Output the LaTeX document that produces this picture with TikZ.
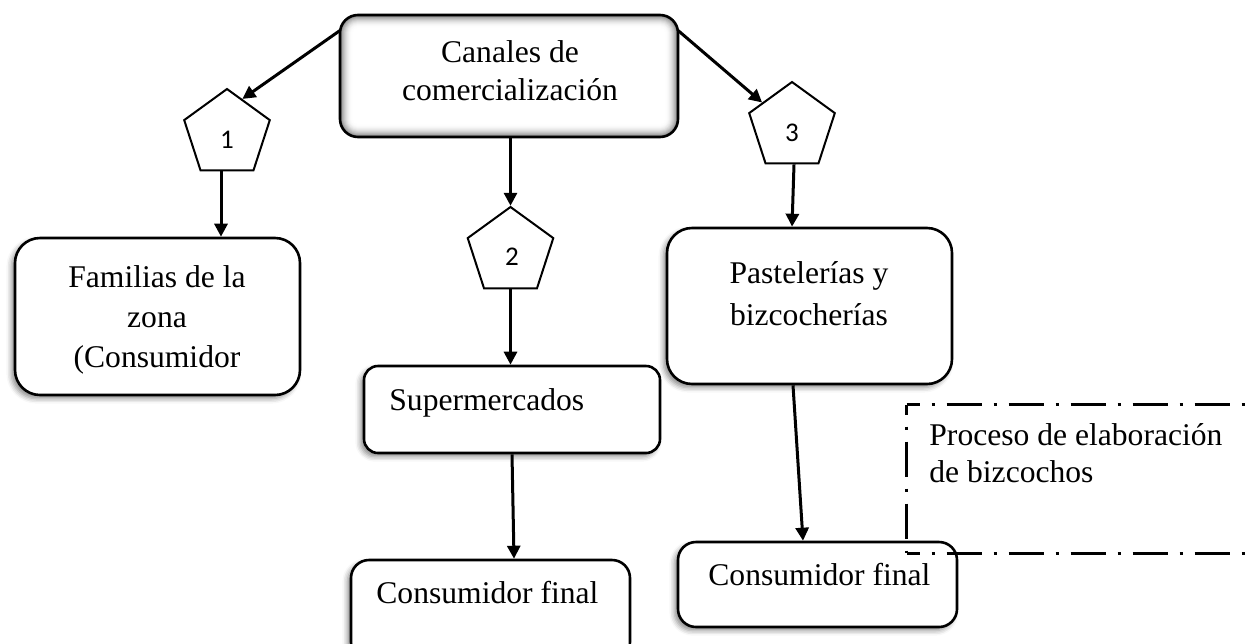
\documentclass[tikz,border=0pt]{standalone}
\usepackage{fontspec}
\setmainfont{Liberation Serif}
\newfontfamily\digitfont{Carlito}
\usetikzlibrary{shapes.geometric,arrows.meta,calc,shadows.blur}
\newcommand\fsz[1]{\fontsize{15.8}{#1}\selectfont}
\begin{document}
\begin{tikzpicture}[x=0.5pt,y=-0.5pt,
  box/.style={draw, line width=1.3pt, fill=white, rounded corners=#1, inner sep=0pt,
    blur shadow={shadow xshift=-1.8pt, shadow yshift=-1.8pt, shadow blur radius=2.5pt, shadow opacity=45}},
  topbox/.style={draw, line width=1.3pt, fill=white, rounded corners=9pt, inner sep=0pt,
    path picture={
      \foreach \i in {0,...,12} {
        \pgfmathsetmacro\c{50*(1-\i/13)^2.2}
        \pgfmathsetlengthmacro\r{max(9pt-\i*0.5pt,1pt)}
        \fill[black!\c, rounded corners=\r]
          ([shift={(\i*0.5pt,\i*0.5pt)}]path picture bounding box.south west) rectangle
          ([shift={(-\i*0.5pt,-\i*0.5pt)}]path picture bounding box.north east);
      }
      \fill[white, rounded corners=2pt]
        ([shift={(6.5pt,6.5pt)}]path picture bounding box.south west) rectangle
        ([shift={(-6.5pt,-6.5pt)}]path picture bounding box.north east);
    }},
  pent/.style={regular polygon, regular polygon sides=5, draw, line width=1pt,
    minimum size=45pt, inner sep=0pt, fill=white},
  dig/.style={inner sep=0pt, font=\digitfont\fontsize{13.5}{16}\selectfont},
  txt/.style={inner sep=0pt, anchor=base},
  txtl/.style={inner sep=0pt, anchor=base west},
  arr/.style={line width=1.5pt, -{Triangle[length=6.5pt,width=6.5pt]}},
  dashline/.style={line width=1.5pt, dash pattern=on 17.5pt off 6pt on 1.5pt off 6pt}
]
\useasboundingbox (0,0) rectangle (1256,643);
\clip (0,0) rectangle (1256,643);

% boxes
\node[topbox, minimum width=169pt, minimum height=61pt] (T) at (509,76) {};
\node[box=12.5pt, minimum width=142.5pt, minimum height=78.5pt] (F) at (157.5,316.5) {};
\node[box=7pt, minimum width=148pt, minimum height=43.5pt] (S) at (512,409.5) {};
\node[box=12.5pt, minimum width=142.5pt, minimum height=78pt] (Pa) at (809.5,306) {};
\node[box=9pt, minimum width=139.5pt, minimum height=50pt] (C1) at (490.5,610) {};
\node[box=9pt, minimum width=139.5pt, minimum height=42.5pt] (C2) at (817.5,584.5) {};
\node[inner sep=0pt, minimum width=181.5pt, minimum height=74pt] (D) at (1088.5,479) {};
\draw[dashline, dash phase=11pt] (D.north west) -- (D.north east);
\draw[dashline, dash phase=12.5pt] (D.north west) -- (D.south west);
\draw[dashline, dash phase=11pt] (D.south west) -- (D.south east);

% pentagons
\node[pent] (P1) at (227,134) {};
\node[pent] (P2) at (510.5,252) {};
\node[pent] (P3) at (792,127) {};
\node[dig] (d1) at (227,139.5) {1};
\node[dig] (d2) at (512,257) {2};
\node[dig] (d3) at (792,132.5) {3};

% texts (base anchor = baseline of the last line)
\node[txt, align=center, font=\fsz{19pt}] (tT) at (510,100) {Canales de\\comercialización};
\node[txt, align=center, font=\fsz{20pt}] (tF) at (157,367) {Familias de la\\zona\\(Consumidor};
\node[txtl, font=\fsz{19pt}] (tS) at (389,410) {Supermercados};
\node[txt, align=center, font=\fsz{21pt}] (tPa) at (809,325) {Pastelerías y\\bizcocherías};
\node[txtl, font=\fsz{19pt}] (tC1) at (376,603) {Consumidor final};
\node[txtl, font=\fsz{19pt}] (tC2) at (708,585) {Consumidor final};
\node[txtl, align=left, font=\fsz{18.5pt}] (tD) at (929,482) {Proceso de elaboración\\de bizcochos};

% connectors
\draw[arr] ([shift={(1,17)}]T.north west) -- ($(P1.corner 1)!0.35!(P1.corner 5)$);
\draw[arr] ([shift={(-1,17)}]T.north east) -- ($(P3.corner 1)!0.68!(P3.corner 2)$);
\draw[arr] (T.south -| P2.corner 1) -- (P2.corner 1);
\draw[arr] ([xshift=-3pt]P1.south) -- ([xshift=-3pt]P1.south |- F.north);
\draw[arr] (P2.south) -- (P2.south |- S.north);
\draw[arr] ([xshift=1pt]P3.south) -- ([xshift=0pt]P3.south |- Pa.north);
\draw[arr] (S.south) -- ([xshift=1pt]S.south |- C1.north);
\draw[arr] ([xshift=-8.25pt]Pa.south) -- ([xshift=-3.25pt]Pa.south |- C2.north);
\end{tikzpicture}
\end{document}
